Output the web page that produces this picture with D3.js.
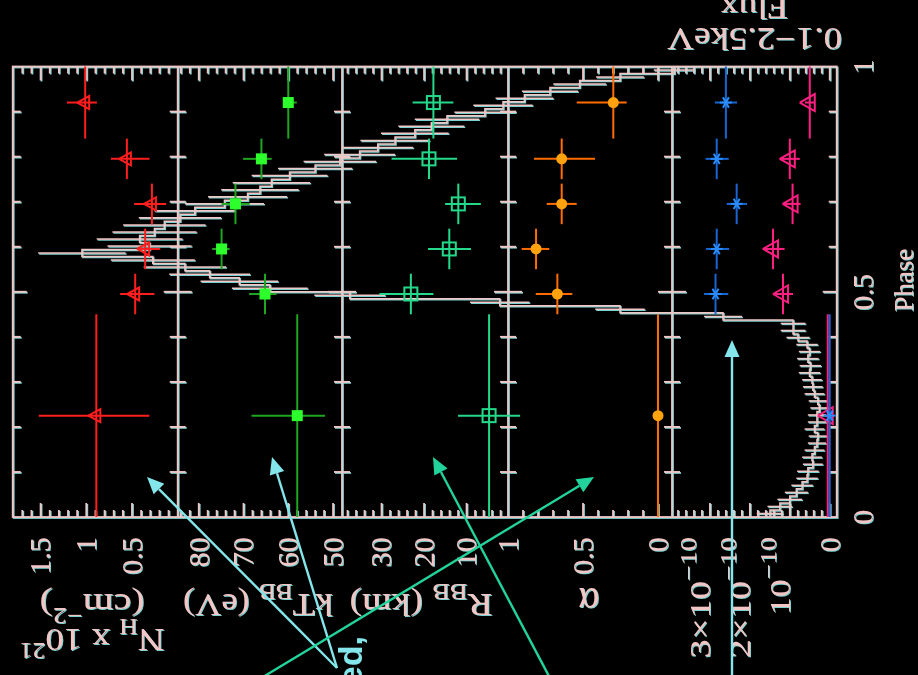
<!DOCTYPE html>
<html>
<head>
<meta charset="utf-8">
<script src="https://cdn.jsdelivr.net/npm/d3@7"></script>
<style>
  html, body { margin: 0; padding: 0; background: #000; }
  svg { display: block; }
</style>
</head>
<body>
<svg id="chart" width="918" height="675"></svg>
<script>
// ---- Phase bins of the phase-resolved spectral fits ----
const phaseCentres    = [0.225, 0.495, 0.595, 0.695, 0.795, 0.92];
const phaseHalfWidths = [0.225, 0.045, 0.045, 0.045, 0.045, 0.08];

// Absorbing column, units of 1e21 cm^-2
const nH      = [0.89, 0.465, 0.356, 0.282, 0.556, 1.012];
const nHErrLo = [0.58, 0.21, 0.165, 0.156, 0.247, 0.128];
const nHErrHi = [0.63, 0.165, 0.09, 0.194, 0.175, 0.2];

// Blackbody temperature (eV)
const kT      = [58.0, 65.2, 74.9, 71.8, 66.0, 60.0];
const kTErrLo = [6.2, 2.6, 1.8, 3.2, 2.3, 1.9];
const kTErrHi = [10.2, 3.55, 2.1, 3.1, 4.1, 1.0];

// Blackbody radius (km)
const rBB      = [4.7, 23.1, 14.06, 11.94, 18.84, 17.8];
const rBBErrLo = [7.3, 5.3, 5.1, 5.3, 6.6, 4.7];
const rBBErrHi = [7.3, 7.4, 5.0, 3.1, 8.8, 4.9];

// Power-law index
const alpha      = [0.0, 0.671, 0.813, 0.642, 0.642, 0.298];
const alphaErrLo = [0, 0.10, 0.088, 0.10, 0.222, 0.089];
const alphaErrHi = [0, 0.144, 0.096, 0.10, 0.185, 0.244];

// 0.1-2.5 keV fluxes, units of 1e-10
const fluxTotal      = [0.0, 2.86, 2.83, 2.33, 2.83, 2.6];
const fluxTotalErrLo = [0, 0.32, 0.31, 0.26, 0.30, 0.28];
const fluxTotalErrHi = [0, 0.29, 0.27, 0.25, 0.28, 0.275];
const fluxBB      = [0.05, 1.17, 1.42, 0.93, 1.0, 0.5];
const fluxBBErrLo = [0, 0.25, 0.29, 0.20, 0.25, 0.12];
const fluxBBErrHi = [0, 0.25, 0.26, 0.24, 0.25, 0.12];

// Folded light curve (64 phase bins, relative count rate)
const lcRate = [8.1,6.9,5.7,4.9,4.2,3.6,3.5,2.9,3.0,2.7,
                2.4,2.3,2.7,2.4,2.4,2.1,2.3,2.7,2.9,3.0,
                3.3,3.2,3.5,3.3,3.6,4.7,5.3,5.3,13.8,26.3,
                40.9,59.1,68.8,72.5,76.1,79.1,83.0,91.6,83.4,84.6,
                82.8,81.6,79.7,77.9,74.3,71.5,70.0,68.6,66.4,63.3,
                60.3,57.9,55.7,53.6,51.2,49.2,47.3,42.7,40.5,37.9,
                34.8,31.2,26.3,19.7];
const lcErr  = [1.6,1.5,1.5,1.4,1.3,1.3,1.3,1.2,1.2,1.2,
                1.1,1.1,1.2,1.1,1.1,1.1,1.1,1.2,1.2,1.2,
                1.3,1.3,1.3,1.3,1.3,1.4,1.5,1.5,2.3,3.0,
                3.6,4.3,4.6,4.7,4.9,5.0,5.1,5.3,5.1,5.2,
                5.1,5.0,5.0,4.9,4.8,4.8,4.7,4.7,4.6,4.5,
                4.4,4.3,4.3,4.2,4.1,4.0,3.9,3.7,3.6,3.5,
                3.4,3.2,2.9,2.5];

// Tick labels
const phaseTickLabels = [0, 0.5, 1];
const nHTickLabels    = [1.5, 1, 0.5];
const kTTickLabels    = [80, 70, 60, 50];
const rBBTickLabels   = [30, 20, 10];
const alphaTickLabels = [1, 0.5, 0];
const fluxTickLabels  = [3, 2, 1, 0];

// ---------------------------------------------------------------
const svg = d3.select('#chart');
const INK = '#f3c6c6';
const SERIF = '"Liberation Serif", "DejaVu Serif", serif';

svg.append('rect').attr('width', 918).attr('height', 675).attr('fill', '#000');

// cyan colour fringe on the white line-work
const defs = svg.append('defs');
const f = defs.append('filter').attr('id', 'fringe')
  .attr('filterUnits', 'userSpaceOnUse')
  .attr('x', -20).attr('y', -40).attr('width', 960).attr('height', 760);
f.append('feOffset').attr('in', 'SourceAlpha').attr('dx', 1.2).attr('dy', 1.2).attr('result', 'off');
f.append('feFlood').attr('flood-color', '#78d2d2').attr('result', 'col');
f.append('feComposite').attr('in', 'col').attr('in2', 'off').attr('operator', 'in').attr('result', 'shadow');
const fm = f.append('feMerge');
fm.append('feMergeNode').attr('in', 'shadow');
fm.append('feMergeNode').attr('in', 'SourceGraphic');

// layout: phase runs upward, the five parameter panels side by side
const plotTop = 66.5, plotBottom = 517;
const edges = [12.7, 177.7, 342, 508, 672, 836.7];

const yPhase = d3.scaleLinear().domain([0, 1]).range([plotBottom, plotTop]);

const panels = [
  { domain: [0, 1.805],      major: 0.5, minor: 0.1, labels: nHTickLabels },
  { domain: [48, 84.7],      major: 10,  minor: 2,   labels: kTTickLabels },
  { domain: [0.25, 39.3],    major: 10,  minor: 2,   labels: rBBTickLabels },
  { domain: [-0.0933, 1.0],  major: 0.5, minor: 0.1, labels: alphaTickLabels },
  { domain: [-0.175, 3.95],  major: 1,   minor: 0.2, labels: fluxTickLabels }
];
panels.forEach((p, i) => {
  p.x = d3.scaleLinear().domain(p.domain).range([edges[i + 1], edges[i]]);
});
const lcX = d3.scaleLinear().domain([0, 100]).range([edges[5], edges[0]]);

// ---- frame, ticks, light curve (white ink) ----
const ink = svg.append('g').attr('filter', 'url(#fringe)')
  .attr('stroke', INK).attr('fill', 'none');

const inkLines = ink.append('g').attr('stroke-width', 1.8);
inkLines.append('rect')
  .attr('x', edges[0]).attr('y', plotTop)
  .attr('width', edges[5] - edges[0]).attr('height', plotBottom - plotTop);
edges.slice(1, 5).forEach(x => {
  inkLines.append('line').attr('x1', x).attr('x2', x).attr('y1', plotTop).attr('y2', plotBottom);
});

// value-axis ticks on the top and bottom edges of each panel
panels.forEach((p, i) => {
  const k0 = Math.ceil(p.domain[0] / p.minor - 1e-6);
  const k1 = Math.floor(p.domain[1] / p.minor + 1e-6);
  d3.range(k0, k1 + 1).forEach(k => {
    const v = k * p.minor;
    const x = p.x(v);
    if (x < edges[i] + 1.5 || x > edges[i + 1] - 1.5) return;
    const r = v / p.major;
    const len = Math.abs(r - Math.round(r)) < 1e-6 ? 14 : 7;
    inkLines.append('line').attr('x1', x).attr('x2', x).attr('y1', plotTop).attr('y2', plotTop + len);
    inkLines.append('line').attr('x1', x).attr('x2', x).attr('y1', plotBottom).attr('y2', plotBottom - len);
  });
});

// phase ticks on both sides of every panel edge
d3.range(1, 10).map(k => k / 10).forEach(ph => {
  const y = yPhase(ph);
  const len = Math.abs(ph - 0.5) < 1e-6 ? 14 : 8;
  edges.forEach((x, j) => {
    const xa = j > 0 ? x - len : x;
    const xb = j < edges.length - 1 ? x + len : x;
    inkLines.append('line').attr('x1', xa).attr('x2', xb).attr('y1', y).attr('y2', y);
  });
});

// folded light curve: step histogram with error bars
const nBins = lcRate.length;
const lcPts = [];
lcRate.forEach((r, i) => {
  const x = lcX(r);
  lcPts.push([x, yPhase(i / nBins)], [x, yPhase((i + 1) / nBins)]);
});
const lcG = ink.append('g').attr('stroke-width', 1.5);
lcG.append('path').attr('d', d3.line()(lcPts));
lcRate.forEach((r, i) => {
  const y = yPhase((i + 0.5) / nBins);
  lcG.append('line').attr('x1', lcX(r - lcErr[i])).attr('x2', lcX(r + lcErr[i]))
    .attr('y1', y).attr('y2', y);
});

// ---- text ----
const txt = svg.append('g').attr('filter', 'url(#fringe)')
  .attr('fill', INK).attr('font-family', SERIF);

function rich(textSel, segs, fs, supScale) {
  let shift = 0;
  const sc = supScale || 0.7;
  segs.forEach(s => {
    const target = s.sup ? -0.45 * fs : (s.sub ? 0.32 * fs : 0);
    textSel.append('tspan')
      .attr('dy', target - shift)
      .attr('font-size', (s.sup || s.sub) ? fs * sc : fs)
      .text(s.t);
    shift = target;
  });
}

// phase tick labels and title (read bottom to top)
phaseTickLabels.forEach(v => {
  txt.append('text')
    .attr('transform', `translate(873,${yPhase(v)}) rotate(-90)`)
    .attr('text-anchor', 'middle').attr('font-size', 29)
    .text(String(v));
});
txt.append('text')
  .attr('transform', 'translate(913,280) rotate(-90)')
  .attr('text-anchor', 'middle').attr('font-size', 28)
  .attr('textLength', 63).attr('lengthAdjust', 'spacingAndGlyphs')
  .text('Phase');

// value tick labels under each panel
const labelEnd = 537;
panels.forEach((p, i) => {
  p.labels.forEach(v => {
    const t = txt.append('text')
      .attr('transform', `translate(${p.x(v)},${labelEnd}) rotate(-90)`)
      .attr('text-anchor', 'end').attr('font-size', 30).attr('dy', '0.33em');
    if (i === 4 && v !== 0) {
      const segs = v === 1 ? [{ t: '10' }, { t: '\u221210', sup: true }]
                           : [{ t: v + '\u00d710' }, { t: '\u221210', sup: true }];
      rich(t, segs, 30, 0.75);
      t.attr('textLength', v === 1 ? 78 : 121).attr('lengthAdjust', 'spacingAndGlyphs');
    } else {
      t.text(String(v));
    }
  });
});

// panel titles, written upside down below the panels
function title(cx, by, segs, fs, len) {
  const t = txt.append('text')
    .attr('transform', `translate(${cx},${by}) rotate(180)`)
    .attr('text-anchor', 'middle').attr('font-size', fs);
  rich(t, segs, fs);
  if (len) t.attr('textLength', len).attr('lengthAdjust', 'spacingAndGlyphs');
  return t;
}
title(92, 629, [{ t: 'N' }, { t: 'H', sub: true }, { t: ' x 10' }, { t: '21', sup: true }], 32, 145);
title(92, 594, [{ t: '(cm' }, { t: '\u22122', sup: true }, { t: ')' }], 32, 105);
title(258, 594, [{ t: 'kT' }, { t: 'BB', sub: true }, { t: ' (eV)' }], 32, 150);
title(421, 594, [{ t: 'R' }, { t: 'BB', sub: true }, { t: ' (km)' }], 32, 143);
title(589, 588, [{ t: '\u03b1' }], 40);
title(754.5, 28, [{ t: '0.1\u22122.5keV' }], 32, 175);
title(754, -3, [{ t: 'Flux' }], 32, 68);

// ---- data points with error bars ----
function triLeft(g, x, y, w, h, col) {
  g.append('path')
    .attr('d', d3.line()([[x - w * 2 / 3, y], [x + w / 3, y - h / 2], [x + w / 3, y + h / 2], [x - w * 2 / 3, y]]))
    .attr('fill', 'none').attr('stroke', col).attr('stroke-width', 2);
}
function drawSeries(p, vals, lo, hi, barCol, marker) {
  const g = svg.append('g').attr('stroke', barCol).attr('stroke-width', 2);
  vals.forEach((v, i) => {
    const x = p.x(v), y = yPhase(phaseCentres[i]);
    g.append('line').attr('x1', x).attr('x2', x)
      .attr('y1', yPhase(phaseCentres[i] - phaseHalfWidths[i]))
      .attr('y2', yPhase(phaseCentres[i] + phaseHalfWidths[i]));
    g.append('line').attr('y1', y).attr('y2', y)
      .attr('x1', p.x(v - lo[i])).attr('x2', p.x(v + hi[i]));
    marker(g, x, y);
  });
}

drawSeries(panels[0], nH, nHErrLo, nHErrHi, '#ff1e1e',
  (g, x, y) => triLeft(g, x, y, 12, 13, '#ff1e1e'));

drawSeries(panels[1], kT, kTErrLo, kTErrHi, '#1fa51f',
  (g, x, y) => g.append('rect').attr('x', x - 5.5).attr('y', y - 5.5)
    .attr('width', 11).attr('height', 11).attr('fill', '#2dff2d').attr('stroke', 'none'));

drawSeries(panels[2], rBB, rBBErrLo, rBBErrHi, '#24d98a',
  (g, x, y) => g.append('rect').attr('x', x - 6.5).attr('y', y - 6.5)
    .attr('width', 13).attr('height', 13).attr('fill', 'none').attr('stroke', '#24d98a'));

drawSeries(panels[3], alpha, alphaErrLo, alphaErrHi, '#ff6c00',
  (g, x, y) => g.append('circle').attr('cx', x).attr('cy', y).attr('r', 5.5)
    .attr('fill', '#ffa20e').attr('stroke', 'none'));

drawSeries(panels[4], fluxBB, fluxBBErrLo, fluxBBErrHi, '#ff1f82',
  (g, x, y) => triLeft(g, x, y, 15, 17, '#ff1f82'));

drawSeries(panels[4], fluxTotal, fluxTotalErrLo, fluxTotalErrHi, '#1866d2',
  (g, x, y) => {
    [0, 60, 120].forEach(a => {
      const r = a * Math.PI / 180, d = 6;
      g.append('line').attr('stroke', '#2a8cff')
        .attr('x1', x - d * Math.cos(r)).attr('y1', y - d * Math.sin(r))
        .attr('x2', x + d * Math.cos(r)).attr('y2', y + d * Math.sin(r));
    });
  });

// ---- annotation arrows ----
const CYAN = '#84e6ea', TEAL = '#22d49c';
const arrows = [
  { from: [337, 668], to: [147, 477], col: CYAN },
  { from: [337, 668], to: [272, 457], col: CYAN },
  { from: [258, 680], to: [594, 477], col: TEAL },
  { from: [551, 680], to: [433, 457], col: TEAL },
  { from: [732, 690], to: [732, 340], col: CYAN }
];
const ann = svg.append('g');
arrows.forEach(a => {
  const [x0, y0] = a.from, [x1, y1] = a.to;
  const ang = Math.atan2(y1 - y0, x1 - x0);
  const L = 17, Wd = 7.5;
  const bx = x1 - L * Math.cos(ang), by = y1 - L * Math.sin(ang);
  ann.append('line').attr('x1', x0).attr('y1', y0).attr('x2', bx).attr('y2', by)
    .attr('stroke', a.col).attr('stroke-width', 2.4);
  const nx = -Math.sin(ang), ny = Math.cos(ang);
  ann.append('path')
    .attr('d', d3.line()([[x1, y1], [bx + nx * Wd, by + ny * Wd], [bx - nx * Wd, by - ny * Wd], [x1, y1]]))
    .attr('fill', a.col).attr('stroke', 'none');
});
ann.append('text')
  .attr('transform', 'translate(362,636) rotate(-90)')
  .attr('text-anchor', 'end')
  .attr('font-family', '"Liberation Sans", Arial, sans-serif')
  .attr('font-weight', 'bold').attr('font-size', 34)
  .attr('fill', CYAN)
  .text('ed,');
</script>
</body>
</html>
